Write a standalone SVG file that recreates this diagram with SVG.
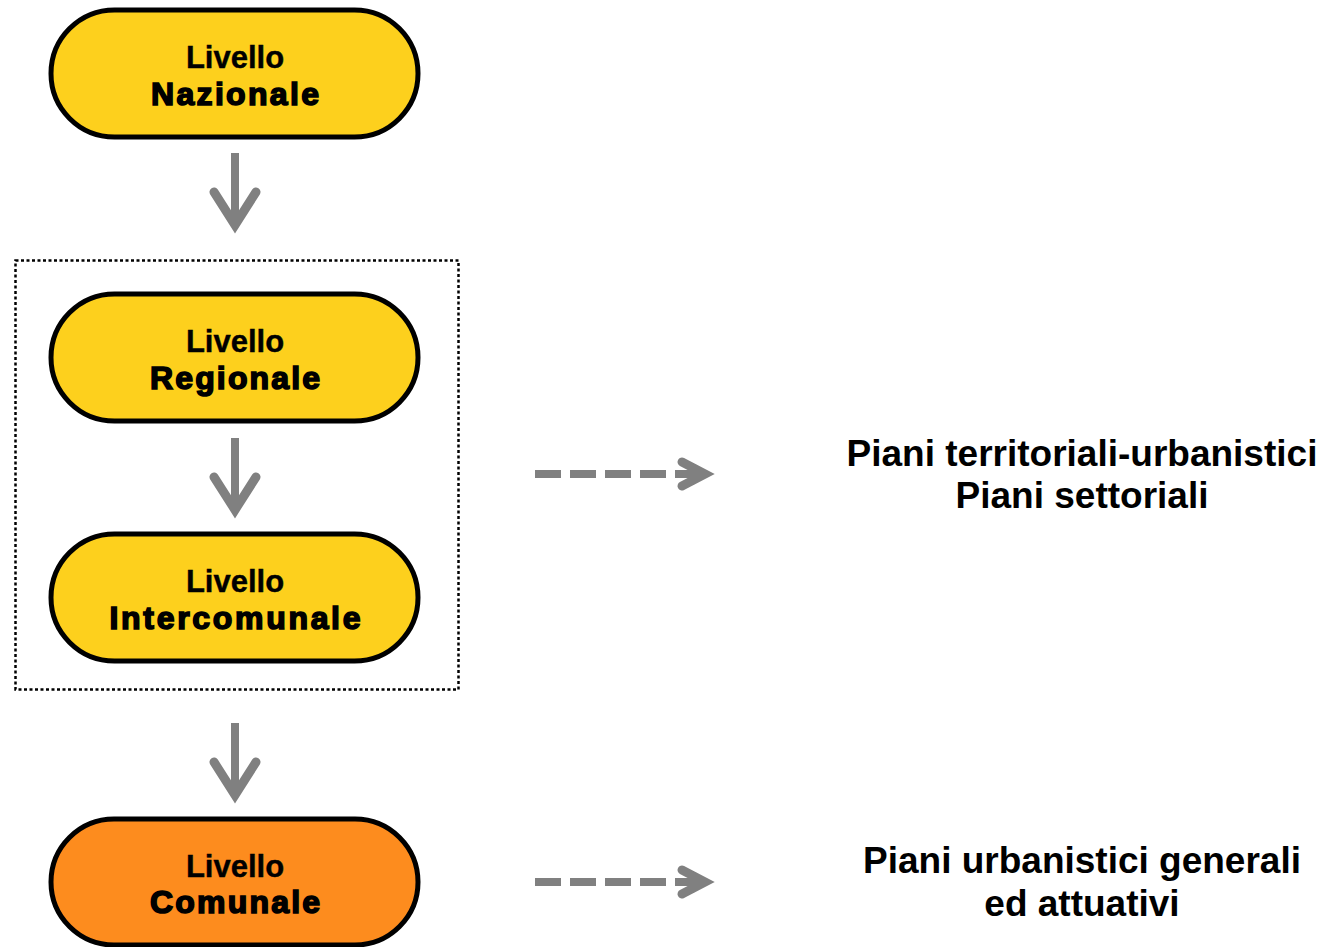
<svg xmlns="http://www.w3.org/2000/svg" width="1328" height="947" viewBox="0 0 1328 947">
<style>
.node{stroke:#000;stroke-width:5}
.yel{fill:#FDD01D}
.org{fill:#FD8C1E}
.t1{font-family:"Liberation Sans",Arial,sans-serif;font-weight:bold;font-size:31px;fill:#000;stroke:#000;stroke-width:0.4;text-anchor:middle}
.t2{font-family:"Liberation Sans",Arial,sans-serif;font-weight:bold;font-size:32px;fill:#000;stroke:#000;stroke-width:1.6;text-anchor:middle}
.lbl{font-family:"Liberation Sans",Arial,sans-serif;font-weight:bold;font-size:37px;fill:#000;text-anchor:middle}
.shaft{stroke:#808080;stroke-width:8;fill:none}
.head{stroke:#808080;stroke-width:9;fill:none;stroke-linecap:round;stroke-linejoin:miter;stroke-miterlimit:10}
.dash{stroke:#808080;stroke-width:8;fill:none;stroke-dasharray:26 9}
</style>
<rect id="group-box" x="15.5" y="260.5" width="443" height="429" fill="none" stroke="#000" stroke-width="2.5" stroke-dasharray="3 2.5"/>
<g id="connectors">
<line class="shaft" x1="235" y1="153" x2="235" y2="222"/>
<path class="head" d="M214 192 L235 225 L256 192"/>
<line class="shaft" x1="235" y1="438" x2="235" y2="507"/>
<path class="head" d="M214 477 L235 510 L256 477"/>
<line class="shaft" x1="235" y1="723" x2="235" y2="792"/>
<path class="head" d="M214 762 L235 795 L256 762"/>
<line class="dash" x1="535" y1="474" x2="700" y2="474"/>
<path class="head" d="M682 462 L705 474 L682 486"/>
<line class="dash" x1="535" y1="882" x2="700" y2="882"/>
<path class="head" d="M682 870 L705 882 L682 894"/>
</g>
<g id="node-nazionale">
<rect class="node yel" x="51" y="10" width="367" height="127" rx="63.5"/>
<text class="t1" x="235" y="68">Livello</text>
<text class="t2" x="235" y="105" textLength="168" lengthAdjust="spacing">Nazionale</text>
</g>
<g id="node-regionale">
<rect class="node yel" x="51" y="294" width="367" height="127" rx="63.5"/>
<text class="t1" x="235" y="352">Livello</text>
<text class="t2" x="235" y="389" textLength="170" lengthAdjust="spacing">Regionale</text>
</g>
<g id="node-intercomunale">
<rect class="node yel" x="51" y="534" width="367" height="127" rx="63.5"/>
<text class="t1" x="235" y="592">Livello</text>
<text class="t2" x="235" y="629" textLength="251" lengthAdjust="spacing">Intercomunale</text>
</g>
<g id="node-comunale">
<rect class="node org" x="51" y="819" width="367" height="126" rx="63"/>
<text class="t1" x="235" y="877">Livello</text>
<text class="t2" x="235" y="913" textLength="170" lengthAdjust="spacing">Comunale</text>
</g>
<g id="label-territoriali">
<text class="lbl" x="1082" y="466">Piani territoriali-urbanistici</text>
<text class="lbl" x="1082" y="508">Piani settoriali</text>
</g>
<g id="label-comunali">
<text class="lbl" x="1082" y="873">Piani urbanistici generali</text>
<text class="lbl" x="1082" y="916">ed attuativi</text>
</g>
</svg>
